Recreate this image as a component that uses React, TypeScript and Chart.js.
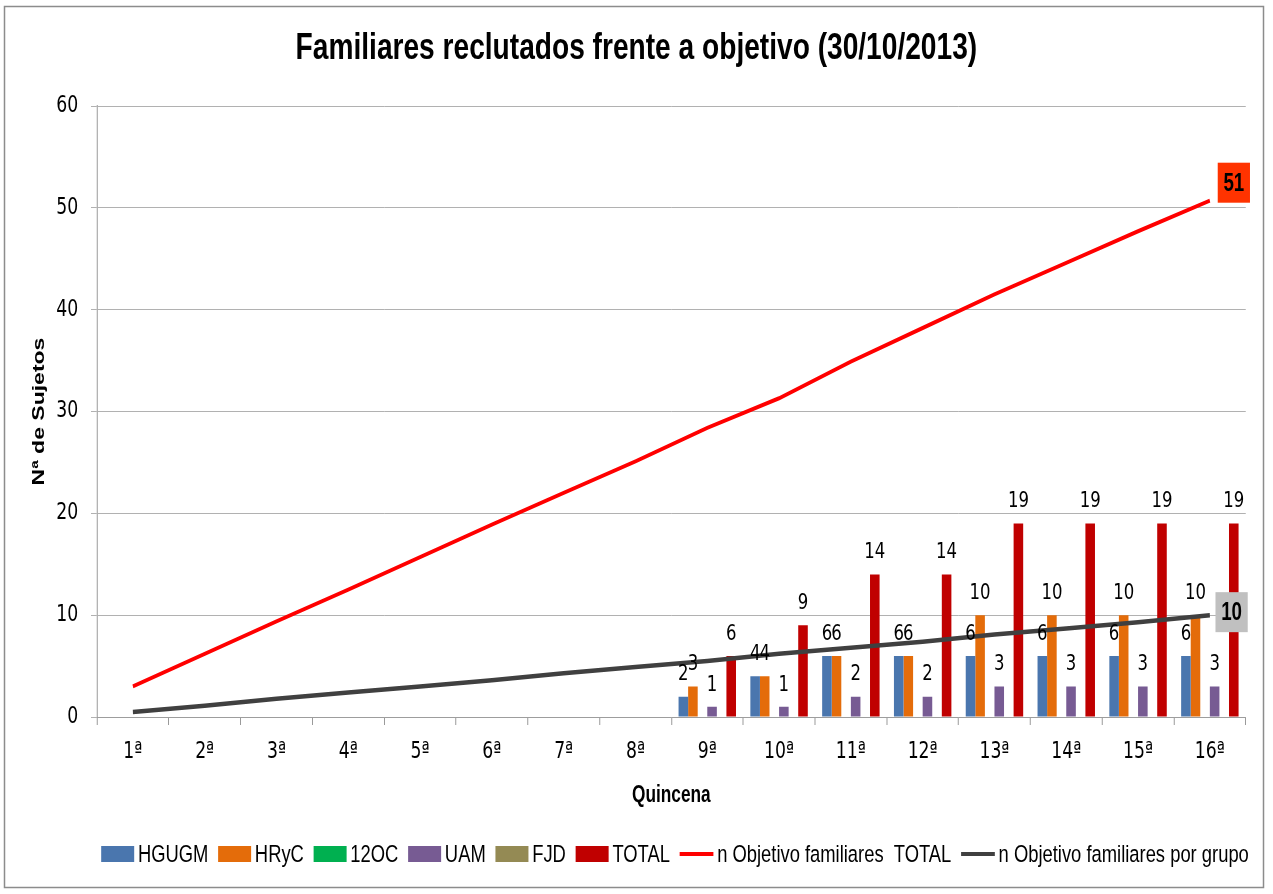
import React, { useEffect, useRef } from 'react';
import { Chart, registerables } from 'chart.js';

Chart.register(...registerables);

const FONT = '"Liberation Sans", Arial, sans-serif';
const TICK_FONT = '"DejaVu Sans", "Liberation Sans", sans-serif';

const categories = ['1ª', '2ª', '3ª', '4ª', '5ª', '6ª', '7ª', '8ª', '9ª', '10ª', '11ª', '12ª', '13ª', '14ª', '15ª', '16ª'];
const hgugm = [null, null, null, null, null, null, null, null, 2, 4, 6, 6, 6, 6, 6, 6];
const hryc = [null, null, null, null, null, null, null, null, 3, 4, 6, 6, 10, 10, 10, 10];
const oc12 = [null, null, null, null, null, null, null, null, null, null, null, null, null, null, null, null];
const uam = [null, null, null, null, null, null, null, null, 1, 1, 2, 2, 3, 3, 3, 3];
const fjd = [null, null, null, null, null, null, null, null, null, null, null, null, null, null, null, null];
const total = [null, null, null, null, null, null, null, null, 6, 9, 14, 14, 19, 19, 19, 19];
const objetivoTotal = [3.0, 6.2, 9.4, 12.5, 15.7, 18.9, 22.0, 25.1, 28.4, 31.3, 34.9, 38.2, 41.5, 44.6, 47.7, 50.7];
const objetivoGrupo = [0.5, 1.1, 1.8, 2.4, 3.0, 3.6, 4.3, 4.9, 5.5, 6.2, 6.8, 7.4, 8.1, 8.7, 9.3, 10.0];
const yMin = 0;
const yMax = 60;
const yStep = 10;

const titleText = 'Familiares reclutados frente a objetivo (30/10/2013)';
const xTitle = 'Quincena';
const yTitle = 'Nª de Sujetos';

// page size and horizontal text compression of the original picture
const PAGE_W = 1273;
const PAGE_H = 894;
const SX = 0.75;
const W = Math.round(PAGE_W / SX);
const PAD_SIDE = 36;

const squeezePlugin = {
  id: 'squeeze',
  beforeDraw(chart: any) {
    const ctx = chart.ctx;
    ctx.save();
    ctx.setTransform(1, 0, 0, 1, 0, 0);
    ctx.fillStyle = '#ffffff';
    ctx.fillRect(0, 0, PAGE_W, PAGE_H);
    ctx.strokeStyle = '#8c8c8c';
    ctx.lineWidth = 1.5;
    ctx.strokeRect(4.5, 6.5, 1259, 881);
    ctx.setTransform(SX, 0, 0, 1, 0, 0);
  },
};

const unsqueezePlugin = {
  id: 'unsqueeze',
  afterDraw(chart: any) {
    chart.ctx.restore();
  },
};

const labelsPlugin = {
  id: 'valueLabels',
  afterDatasetsDraw(chart: any) {
    const ctx = chart.ctx;
    ctx.save();
    ctx.textAlign = 'center';
    ctx.textBaseline = 'middle';
    chart.data.datasets.forEach((ds: any, di: number) => {
      const meta = chart.getDatasetMeta(di);
      if (ds.type !== 'line') {
        ctx.font = `22px ${TICK_FONT}`;
        ctx.fillStyle = '#000';
        meta.data.forEach((el: any, i: number) => {
          const v = ds.data[i];
          if (v == null) return;
          ctx.fillText(String(v), el.x, el.y - 22);
        });
      } else if (ds.endLabel) {
        const last = meta.data[meta.data.length - 1];
        const v = ds.data[ds.data.length - 1];
        const { bg, dx, dy } = ds.endLabel;
        const cx = last.x + dx;
        const cy = last.y + dy;
        const w = 43;
        const h = 40;
        ctx.fillStyle = bg;
        ctx.fillRect(cx - w / 2, cy - h / 2, w, h);
        ctx.font = `bold 25px ${FONT}`;
        ctx.fillStyle = '#000';
        ctx.fillText(String(Math.round(v)), cx, cy + 1);
      }
    });
    ctx.restore();
  },
};

const legendPlugin = {
  id: 'customLegend',
  afterDraw(chart: any) {
    const ctx = chart.ctx;
    ctx.save();
    ctx.font = `24.5px ${FONT}`;
    ctx.textBaseline = 'middle';
    ctx.textAlign = 'left';
    const boxW = 44;
    const boxH = 16;
    const lineW = 45;
    const gapMarker = 5;
    const gapItem = 13;
    const items = chart.data.datasets.map((ds: any) => ({
      text: ds.label,
      color: ds.type === 'line' ? ds.borderColor : ds.backgroundColor,
      isLine: ds.type === 'line',
      w: ctx.measureText(ds.label).width,
    }));
    let totalW = 0;
    items.forEach((it: any, i: number) => {
      totalW += (it.isLine ? lineW : boxW) + gapMarker + it.w + (i > 0 ? gapItem : 0);
    });
    let x = 675 / SX - totalW / 2;
    const y = 854;
    items.forEach((it: any) => {
      if (it.isLine) {
        ctx.strokeStyle = it.color;
        ctx.lineWidth = 4;
        ctx.beginPath();
        ctx.moveTo(x, y);
        ctx.lineTo(x + lineW, y);
        ctx.stroke();
        x += lineW + gapMarker;
      } else {
        ctx.fillStyle = it.color;
        ctx.fillRect(x, y - boxH / 2, boxW, boxH);
        x += boxW + gapMarker;
      }
      ctx.fillStyle = '#000';
      ctx.fillText(it.text, x, y + 1);
      x += it.w + gapItem;
    });
    ctx.restore();
  },
};

export default function App() {
  const canvasRef = useRef<HTMLCanvasElement | null>(null);

  useEffect(() => {
    const canvas = canvasRef.current;
    if (!canvas) return;
    canvas.width = W;
    canvas.height = PAGE_H;
    const barBase = { type: 'bar', order: 1, categoryPercentage: 0.8, barPercentage: 1.0, borderWidth: 0 };
    const chart = new Chart(canvas, {
      type: 'bar',
      data: {
        labels: categories,
        datasets: [
          { ...barBase, label: 'HGUGM', data: hgugm, backgroundColor: '#4A76AE' },
          { ...barBase, label: 'HRyC', data: hryc, backgroundColor: '#E46C0A' },
          { ...barBase, label: '12OC', data: oc12, backgroundColor: '#00B050' },
          { ...barBase, label: 'UAM', data: uam, backgroundColor: '#775B93' },
          { ...barBase, label: 'FJD', data: fjd, backgroundColor: '#948A54' },
          { ...barBase, label: 'TOTAL', data: total, backgroundColor: '#C00000' },
          {
            type: 'line', order: 0, label: 'n Objetivo familiares  TOTAL', data: objetivoTotal,
            borderColor: '#FF0000', backgroundColor: '#FF0000', borderWidth: 4, pointRadius: 0, tension: 0,
            endLabel: { bg: '#FF3300', dx: 32, dy: -18 },
          },
          {
            type: 'line', order: 0, label: 'n Objetivo familiares por grupo', data: objetivoGrupo,
            borderColor: '#404040', backgroundColor: '#404040', borderWidth: 4.5, pointRadius: 0, tension: 0,
            endLabel: { bg: '#C0C0C0', dx: 29, dy: -3 },
          },
        ] as any,
      },
      options: {
        responsive: false,
        animation: false,
        devicePixelRatio: 1,
        layout: { padding: { left: PAD_SIDE, right: PAD_SIDE, top: 0, bottom: 60 } },
        plugins: {
          legend: { display: false },
          tooltip: { enabled: false },
          title: {
            display: true,
            text: titleText,
            color: '#000',
            font: { family: FONT, size: 37.5, weight: 'bold', lineHeight: 1.2 },
            padding: { top: 26, bottom: 35 },
          },
        },
        scales: {
          x: {
            afterFit: (s: any) => { s.height = 117; },
            grid: { drawOnChartArea: false, drawTicks: true, tickLength: 8, color: '#9a9a9a', lineWidth: 1.33, offset: true },
            border: { display: true, color: '#9a9a9a', width: 1 },
            ticks: { color: '#000', font: { family: TICK_FONT, size: 23 }, padding: 13, maxRotation: 0, autoSkip: false },
            title: {
              display: true, text: xTitle, color: '#000',
              font: { family: FONT, size: 23, weight: 'bold', lineHeight: 1.2 },
              padding: { top: 0, bottom: 25 },
            },
          },
          y: {
            min: yMin,
            max: yMax,
            afterFit: (s: any) => { s.width = 97 / SX - PAD_SIDE; },
            grid: { color: '#A6A6A6', tickLength: 8, drawTicks: true },
            border: { display: true, color: '#9a9a9a', width: 1.33 },
            ticks: { stepSize: yStep, color: '#000', font: { family: TICK_FONT, size: 23 }, padding: 17 },
            title: {
              display: true, text: yTitle, color: '#000',
              font: { family: FONT, size: 23, weight: 'bold', lineHeight: 1.2 },
              padding: { top: 2, bottom: 0 },
            },
          },
        },
      } as any,
      plugins: [squeezePlugin, labelsPlugin, legendPlugin, unsqueezePlugin],
    });
    // show the drawing at page size: shrink the bitmap and redraw with the horizontal squeeze
    canvas.width = PAGE_W;
    canvas.height = PAGE_H;
    chart.draw();
    return () => chart.destroy();
  }, []);

  return (
    <div style={{ position: 'absolute', left: 0, top: 0, width: PAGE_W, height: PAGE_H, background: '#fff' }}>
      <canvas ref={canvasRef} width={W} height={PAGE_H} style={{ display: 'block', width: PAGE_W + 'px', height: PAGE_H + 'px' }} />
    </div>
  );
}
